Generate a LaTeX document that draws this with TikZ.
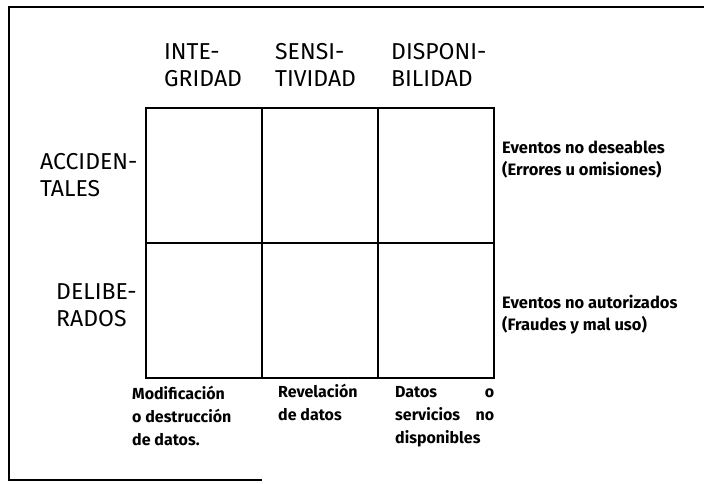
\documentclass[tikz,border=0pt]{standalone}
\usepackage{fontspec}
\setmainfont{Fira Sans}
\begin{document}
\begin{tikzpicture}[x=1pt,y=-1pt,
  frame/.style={line width=1.4pt},
  gridline/.style={line width=1.6pt},
  head/.style={inner sep=0pt,anchor=north west,align=left,font=\fontsize{23}{27}\selectfont},
  note/.style={inner sep=0pt,anchor=north west,align=left,font=\bfseries\fontsize{16.5}{22}\selectfont},
  foot/.style={inner sep=0pt,anchor=north west,align=left,font=\bfseries\fontsize{16}{23}\selectfont}]
\useasboundingbox (0,0) rectangle (704,483);
% frame
\coordinate (f1) at (9,7);
\coordinate (f2) at (704,7);
\coordinate (f3) at (9,480);
\coordinate (f4) at (262,480);
\draw[frame] (f2) -- (f1) -- (f3) -- (f4);
% grid
\coordinate (g00) at (146,108);
\coordinate (g30) at (494,108);
\coordinate (g01) at (146,243);
\coordinate (g31) at (494,243);
\coordinate (g02) at (146,378);
\coordinate (g32) at (494,378);
\coordinate (g10) at (262,108);
\coordinate (g12) at (262,378);
\coordinate (g20) at (378,108);
\coordinate (g22) at (378,378);
\draw[gridline] (g00) rectangle (g32);
\draw[gridline] (g01) -- (g31);
\draw[gridline] (g10) -- (g12);
\draw[gridline] (g20) -- (g22);
% column headers
\node[head] (h1) at (164,43) {INTE-\\GRIDAD};
\node[head] (h2) at (275,43) {SENSI-\\TIVIDAD};
\node[head] (h3) at (391,43) {DISPONI-\\BILIDAD};
% row labels
\node[head] (r1) at (40,153) {ACCIDEN-\\TALES};
\node[head] (r2) at (56,283) {DELIBE-\\RADOS};
% right notes
\node[note] (n1) at (502,141) {Eventos no deseables\\(Errores u omisiones)};
\node[note] (n2) at (502,295) {Eventos no autorizados\\(Fraudes y mal uso)};
% bottom notes
\node[foot] (b1) at (132,386) {Modificación\\o destrucción\\de datos.};
\node[foot] (b2) at (278,384) {Revelación\\de datos};
\node[foot] (b3) at (395,386) {\makebox[99pt][s]{Datos\hfill o}\\\makebox[99pt][s]{servicios\hfill no}\\disponibles};
\end{tikzpicture}
\end{document}
